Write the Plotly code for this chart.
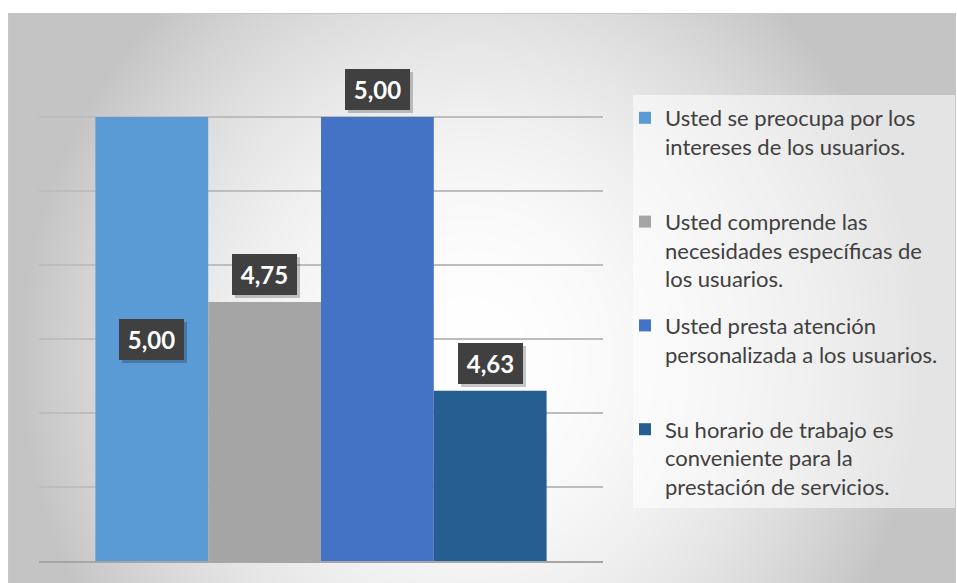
import base64
import struct
import zlib

import numpy as np
import plotly.graph_objects as go

# ---- data -------------------------------------------------------------
series_names = [
    "Usted se preocupa por los<br>intereses de los usuarios.",
    "Usted comprende las<br>necesidades específicas de<br>los usuarios.",
    "Usted presta atención<br>personalizada a los usuarios.",
    "Su horario de trabajo es<br>conveniente para la<br>prestación de servicios.",
]
values = [5.00, 4.75, 5.00, 4.63]
colors = ["#5B9BD5", "#A5A5A5", "#4472C4", "#255E91"]
category = ["Promedio"]
label_inside = [True, False, False, False]

Y_MIN, Y_MAX, Y_STEP = 4.4, 5.1, 0.1

# ---- canvas geometry (pixels) -----------------------------------------
W, H = 957, 583
PL, PR, PT, PB = 39, 603, 43, 561  # plot area edges


def px(x):
    return (x - PL) / (PR - PL)


def py(y):
    return (PB - y) / (PB - PT)


def png_data_uri(arr):
    h, w, _ = arr.shape
    raw = b"".join(b"\x00" + arr[r].tobytes() for r in range(h))

    def chunk(tag, data):
        return (struct.pack(">I", len(data)) + tag + data
                + struct.pack(">I", zlib.crc32(tag + data) & 0xFFFFFFFF))

    png = (b"\x89PNG\r\n\x1a\n"
           + chunk(b"IHDR", struct.pack(">IIBBBBB", w, h, 8, 2, 0, 0, 0))
           + chunk(b"IDAT", zlib.compress(raw, 9))
           + chunk(b"IEND", b""))
    return "data:image/png;base64," + base64.b64encode(png).decode()


# radial grey-to-white chart-area fill
CX0, CY0, CX1, CY1 = 8, 13, 956, 583
gx, gy = np.meshgrid(np.arange(CX0, CX1) + 0.5, np.arange(CY0, CY1) + 0.5)
d2 = ((gx - 470) / 455) ** 2 + ((gy - 360) / 490) ** 2
shade = np.clip(255 - 60 * d2, 196, 255).astype(np.uint8)
bg = np.stack([shade, shade, shade], axis=-1)
bg_uri = png_data_uri(bg)

# every legend entry takes the same number of text lines
max_lines = max(s.count("<br>") + 1 for s in series_names)
legend_text = [s + "<br> " * (max_lines - 1 - s.count("<br>"))
               for s in series_names]

# ---- figure -----------------------------------------------------------
fig = go.Figure()
for i, (name, v, c) in enumerate(zip(legend_text, values, colors)):
    fig.add_trace(go.Bar(
        x=category, y=[v], name=name, legendgroup=f"g{i}",
        marker=dict(color=c, line=dict(width=0)),
        hoverinfo="skip",
    ))

n = len(values)
group_w = 0.8
annotations = []
for i, (v, inside) in enumerate(zip(values, label_inside)):
    xc = -group_w / 2 + group_w / n * (i + 0.5)
    txt = f"{v:.2f}".replace(".", ",")
    if inside:
        ya, yan, ysh = (Y_MIN + v) / 2, "middle", 0
    else:
        ya, yan, ysh = v, "bottom", 7
    common = dict(x=xc, y=ya, xref="x", yref="y", yanchor=yan,
                  showarrow=False, width=57, height=33, borderpad=4,
                  borderwidth=0)
    # soft drop shadow
    annotations.append(dict(common, text=" ", bgcolor="rgba(0,0,0,0.22)",
                            xshift=3, yshift=ysh - 3))
    annotations.append(dict(common, text=f"<b>{txt}</b>", bgcolor="#404040",
                            yshift=ysh,
                            font=dict(family="Lato", size=24, color="white")))

shapes = [
    # legend panel
    dict(type="rect", xref="paper", yref="paper",
         x0=px(633), x1=px(956), y0=py(508), y1=py(95),
         fillcolor="rgba(255,255,255,0.55)", line=dict(width=0), layer="below"),
    # chart-area border
    dict(type="rect", xref="paper", yref="paper",
         x0=px(8.5), x1=px(955.5), y0=py(590), y1=py(13.5),
         fillcolor="rgba(0,0,0,0)", line=dict(color="#c6c6c6", width=1),
         layer="above"),
]

fig.update_layout(
    width=W, height=H,
    margin=dict(l=PL, r=W - PR, t=PT, b=H - PB, pad=0),
    paper_bgcolor="white",
    plot_bgcolor="rgba(0,0,0,0)",
    barmode="group", bargap=1 - group_w, bargroupgap=0,
    showlegend=True,
    legend=dict(
        x=px(625), y=py(97), xanchor="left", yanchor="top",
        bgcolor="rgba(0,0,0,0)", borderwidth=0, valign="top",
        font=dict(family="Lato", size=22, color="#404040"),
        traceorder="grouped", tracegroupgap=15,
    ),
    xaxis=dict(showticklabels=False, showgrid=False, zeroline=False,
               showline=True, linecolor="#a6a6a6", linewidth=2,
               ticks="", fixedrange=True),
    yaxis=dict(range=[Y_MIN, Y_MAX], dtick=Y_STEP, tick0=Y_MIN,
               showticklabels=False, showgrid=True, gridcolor="#bdbdbd",
               gridwidth=1.5, zeroline=False, showline=False, ticks=""),
    images=[dict(source=bg_uri, xref="paper", yref="paper",
                 x=px(CX0), y=py(CY0), sizex=px(CX1) - px(CX0),
                 sizey=py(CY0) - py(CY1), xanchor="left", yanchor="top",
                 sizing="stretch", layer="below")],
    shapes=shapes,
    annotations=annotations,
)

fig.write_html("out.html")
